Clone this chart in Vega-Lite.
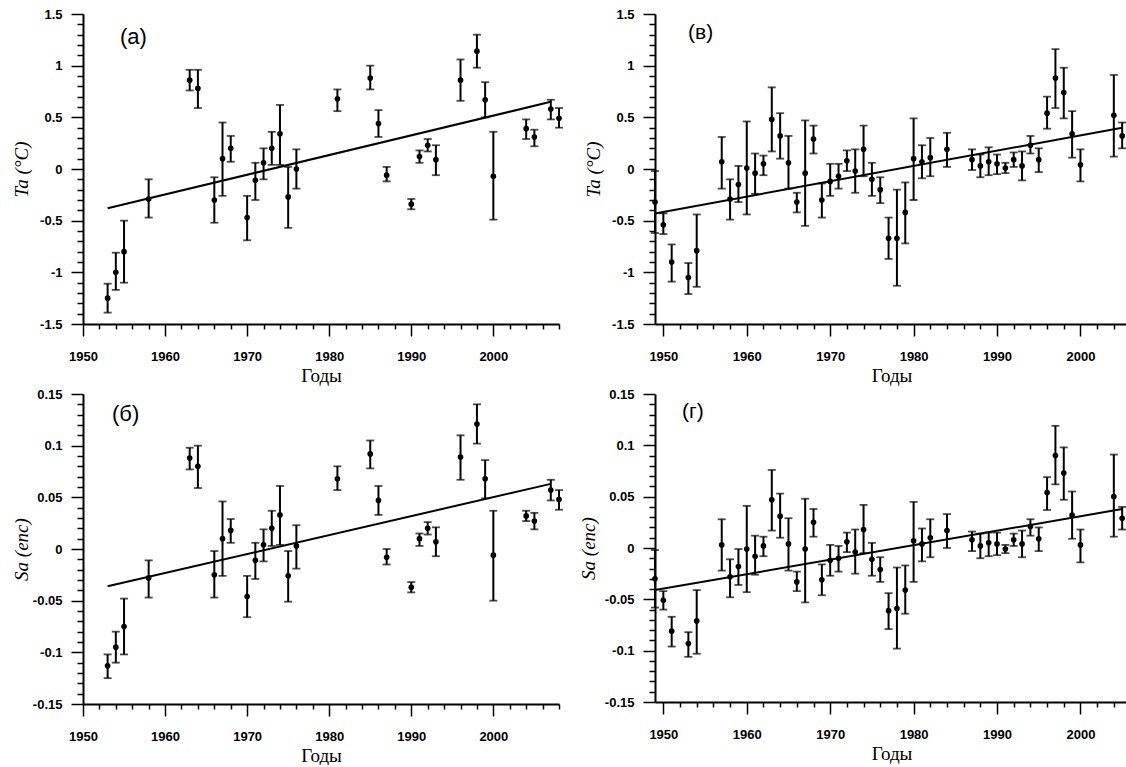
{
  "$schema": "https://vega.github.io/schema/vega-lite/v6.json",
  "background": "white",
  "padding": {"left": 12, "top": 8, "right": 0, "bottom": 0},
  "bounds": "flush",
  "columns": 2,
  "align": "all",
  "spacing": {"row": 70, "column": 96},
  "config": {
    "view": {"stroke": null},
    "axis": {
      "grid": false,
      "domainColor": "black",
      "domainWidth": 2,
      "tickColor": "black",
      "tickWidth": 1.5,
      "labelFont": "Liberation Sans",
      "labelFontWeight": "bold",
      "labelFontSize": 13,
      "labelColor": "black",
      "labelOverlap": false,
      "labelFlush": false,
      "labelBound": false,
      "titleColor": "black",
      "titleFontWeight": "normal"
    },
    "title": {"font": "Liberation Sans", "fontWeight": "normal", "color": "black", "fontSize": 22, "anchor": "start", "frame": "group"}
  },
  "datasets": {
    "a": [
      {"year": 1953, "v": -1.25, "lo": -1.39, "hi": -1.11},
      {"year": 1954, "v": -1.0, "lo": -1.17, "hi": -0.81},
      {"year": 1955, "v": -0.8, "lo": -1.1, "hi": -0.5},
      {"year": 1958, "v": -0.29, "lo": -0.47, "hi": -0.1},
      {"year": 1963, "v": 0.86, "lo": 0.76, "hi": 0.96},
      {"year": 1964, "v": 0.78, "lo": 0.59, "hi": 0.96},
      {"year": 1966, "v": -0.3, "lo": -0.52, "hi": -0.08},
      {"year": 1967, "v": 0.1, "lo": -0.26, "hi": 0.45},
      {"year": 1968, "v": 0.2, "lo": 0.07, "hi": 0.32},
      {"year": 1970, "v": -0.47, "lo": -0.69, "hi": -0.26},
      {"year": 1971, "v": -0.11, "lo": -0.3, "hi": 0.06},
      {"year": 1972, "v": 0.06, "lo": -0.1, "hi": 0.2},
      {"year": 1973, "v": 0.2, "lo": 0.04, "hi": 0.36},
      {"year": 1974, "v": 0.34, "lo": 0.04, "hi": 0.62},
      {"year": 1975, "v": -0.27, "lo": -0.57, "hi": 0.02},
      {"year": 1976, "v": 0.0, "lo": -0.19, "hi": 0.19},
      {"year": 1981, "v": 0.68, "lo": 0.56, "hi": 0.77},
      {"year": 1985, "v": 0.88, "lo": 0.77, "hi": 1.0},
      {"year": 1986, "v": 0.44, "lo": 0.31, "hi": 0.57},
      {"year": 1987, "v": -0.06, "lo": -0.12, "hi": 0.02},
      {"year": 1990, "v": -0.34, "lo": -0.39, "hi": -0.29},
      {"year": 1991, "v": 0.12, "lo": 0.06, "hi": 0.18},
      {"year": 1992, "v": 0.23, "lo": 0.17, "hi": 0.29},
      {"year": 1993, "v": 0.09, "lo": -0.06, "hi": 0.23},
      {"year": 1996, "v": 0.86, "lo": 0.66, "hi": 1.06},
      {"year": 1998, "v": 1.14, "lo": 0.98, "hi": 1.3},
      {"year": 1999, "v": 0.67, "lo": 0.5, "hi": 0.84},
      {"year": 2000, "v": -0.07, "lo": -0.49, "hi": 0.36},
      {"year": 2004, "v": 0.39, "lo": 0.29, "hi": 0.48},
      {"year": 2005, "v": 0.31, "lo": 0.22, "hi": 0.38},
      {"year": 2007, "v": 0.58, "lo": 0.48, "hi": 0.67},
      {"year": 2008, "v": 0.49, "lo": 0.4, "hi": 0.59}
    ],
    "b": [
      {"year": 1953, "v": -0.113, "lo": -0.125, "hi": -0.102},
      {"year": 1954, "v": -0.095, "lo": -0.11, "hi": -0.08},
      {"year": 1955, "v": -0.075, "lo": -0.102, "hi": -0.048},
      {"year": 1958, "v": -0.028, "lo": -0.047, "hi": -0.011},
      {"year": 1963, "v": 0.088, "lo": 0.077, "hi": 0.098},
      {"year": 1964, "v": 0.08, "lo": 0.059, "hi": 0.1},
      {"year": 1966, "v": -0.025, "lo": -0.047, "hi": -0.002},
      {"year": 1967, "v": 0.01, "lo": -0.026, "hi": 0.046},
      {"year": 1968, "v": 0.018, "lo": 0.006, "hi": 0.029},
      {"year": 1970, "v": -0.046, "lo": -0.066, "hi": -0.026},
      {"year": 1971, "v": -0.011, "lo": -0.029, "hi": 0.006},
      {"year": 1972, "v": 0.004, "lo": -0.012, "hi": 0.019},
      {"year": 1973, "v": 0.02, "lo": 0.003, "hi": 0.037},
      {"year": 1974, "v": 0.033, "lo": 0.004, "hi": 0.061},
      {"year": 1975, "v": -0.026, "lo": -0.051, "hi": -0.002},
      {"year": 1976, "v": 0.003, "lo": -0.019, "hi": 0.023},
      {"year": 1981, "v": 0.068, "lo": 0.057, "hi": 0.08},
      {"year": 1985, "v": 0.092, "lo": 0.078, "hi": 0.105},
      {"year": 1986, "v": 0.047, "lo": 0.033, "hi": 0.061},
      {"year": 1987, "v": -0.008, "lo": -0.015, "hi": 0.0},
      {"year": 1990, "v": -0.037, "lo": -0.042, "hi": -0.032},
      {"year": 1991, "v": 0.01, "lo": 0.003, "hi": 0.015},
      {"year": 1992, "v": 0.02, "lo": 0.014, "hi": 0.026},
      {"year": 1993, "v": 0.007, "lo": -0.007, "hi": 0.021},
      {"year": 1996, "v": 0.089, "lo": 0.067, "hi": 0.11},
      {"year": 1998, "v": 0.121, "lo": 0.102, "hi": 0.14},
      {"year": 1999, "v": 0.068, "lo": 0.049, "hi": 0.086},
      {"year": 2000, "v": -0.006, "lo": -0.05, "hi": 0.037},
      {"year": 2004, "v": 0.032, "lo": 0.027, "hi": 0.037},
      {"year": 2005, "v": 0.027, "lo": 0.019, "hi": 0.035},
      {"year": 2007, "v": 0.057, "lo": 0.047, "hi": 0.067},
      {"year": 2008, "v": 0.048, "lo": 0.038, "hi": 0.057}
    ],
    "c": [
      {"year": 1949, "v": -0.32, "lo": -0.62, "hi": -0.02},
      {"year": 1950, "v": -0.54, "lo": -0.63, "hi": -0.43},
      {"year": 1951, "v": -0.9, "lo": -1.09, "hi": -0.73},
      {"year": 1953, "v": -1.05, "lo": -1.21, "hi": -0.91},
      {"year": 1954, "v": -0.79, "lo": -1.14, "hi": -0.44},
      {"year": 1957, "v": 0.07, "lo": -0.19, "hi": 0.31},
      {"year": 1958, "v": -0.29, "lo": -0.49, "hi": -0.1},
      {"year": 1959, "v": -0.15, "lo": -0.32, "hi": 0.03},
      {"year": 1960, "v": 0.01, "lo": -0.44, "hi": 0.46},
      {"year": 1961, "v": -0.04, "lo": -0.24, "hi": 0.15},
      {"year": 1962, "v": 0.05, "lo": -0.06, "hi": 0.13},
      {"year": 1963, "v": 0.48, "lo": 0.17, "hi": 0.79},
      {"year": 1964, "v": 0.32, "lo": 0.1, "hi": 0.54},
      {"year": 1965, "v": 0.06, "lo": -0.19, "hi": 0.32},
      {"year": 1966, "v": -0.32, "lo": -0.42, "hi": -0.23},
      {"year": 1967, "v": -0.04, "lo": -0.55, "hi": 0.47},
      {"year": 1968, "v": 0.29, "lo": 0.15, "hi": 0.42},
      {"year": 1969, "v": -0.3, "lo": -0.47, "hi": -0.14},
      {"year": 1970, "v": -0.12, "lo": -0.26, "hi": 0.05},
      {"year": 1971, "v": -0.07, "lo": -0.19, "hi": 0.05},
      {"year": 1972, "v": 0.08, "lo": -0.02, "hi": 0.18},
      {"year": 1973, "v": -0.02, "lo": -0.23, "hi": 0.19},
      {"year": 1974, "v": 0.19, "lo": -0.07, "hi": 0.42},
      {"year": 1975, "v": -0.1, "lo": -0.26, "hi": 0.06},
      {"year": 1976, "v": -0.2, "lo": -0.33, "hi": -0.08},
      {"year": 1977, "v": -0.67, "lo": -0.87, "hi": -0.47},
      {"year": 1978, "v": -0.67, "lo": -1.13, "hi": -0.2},
      {"year": 1979, "v": -0.42, "lo": -0.72, "hi": -0.13},
      {"year": 1980, "v": 0.1, "lo": -0.3, "hi": 0.49},
      {"year": 1981, "v": 0.07, "lo": -0.09, "hi": 0.23},
      {"year": 1982, "v": 0.11, "lo": -0.07, "hi": 0.3},
      {"year": 1984, "v": 0.19, "lo": 0.02, "hi": 0.35},
      {"year": 1987, "v": 0.09, "lo": -0.01, "hi": 0.19},
      {"year": 1988, "v": 0.03, "lo": -0.08, "hi": 0.14},
      {"year": 1989, "v": 0.07, "lo": -0.06, "hi": 0.21},
      {"year": 1990, "v": 0.05, "lo": -0.05, "hi": 0.14},
      {"year": 1991, "v": 0.01, "lo": -0.04, "hi": 0.06},
      {"year": 1992, "v": 0.09, "lo": 0.02, "hi": 0.16},
      {"year": 1993, "v": 0.03, "lo": -0.11, "hi": 0.17},
      {"year": 1994, "v": 0.23, "lo": 0.15, "hi": 0.32},
      {"year": 1995, "v": 0.09, "lo": -0.03, "hi": 0.2},
      {"year": 1996, "v": 0.54, "lo": 0.39, "hi": 0.7},
      {"year": 1997, "v": 0.88, "lo": 0.59, "hi": 1.16},
      {"year": 1998, "v": 0.74, "lo": 0.49, "hi": 0.98},
      {"year": 1999, "v": 0.34, "lo": 0.11, "hi": 0.56},
      {"year": 2000, "v": 0.04, "lo": -0.12, "hi": 0.19},
      {"year": 2004, "v": 0.52, "lo": 0.12, "hi": 0.91},
      {"year": 2005, "v": 0.32, "lo": 0.2, "hi": 0.45}
    ],
    "d": [
      {"year": 1949, "v": -0.03, "lo": -0.058, "hi": -0.002},
      {"year": 1950, "v": -0.051, "lo": -0.06, "hi": -0.042},
      {"year": 1951, "v": -0.081, "lo": -0.096, "hi": -0.067},
      {"year": 1953, "v": -0.093, "lo": -0.106, "hi": -0.082},
      {"year": 1954, "v": -0.071, "lo": -0.103, "hi": -0.041},
      {"year": 1957, "v": 0.003, "lo": -0.022, "hi": 0.028},
      {"year": 1958, "v": -0.028, "lo": -0.048, "hi": -0.011},
      {"year": 1959, "v": -0.018, "lo": -0.036, "hi": -0.001},
      {"year": 1960, "v": -0.001, "lo": -0.043, "hi": 0.041},
      {"year": 1961, "v": -0.008, "lo": -0.026, "hi": 0.012},
      {"year": 1962, "v": 0.002, "lo": -0.008, "hi": 0.011},
      {"year": 1963, "v": 0.047, "lo": 0.017, "hi": 0.076},
      {"year": 1964, "v": 0.031, "lo": 0.01, "hi": 0.053},
      {"year": 1965, "v": 0.004, "lo": -0.022, "hi": 0.029},
      {"year": 1966, "v": -0.033, "lo": -0.042, "hi": -0.023},
      {"year": 1967, "v": -0.001, "lo": -0.053, "hi": 0.048},
      {"year": 1968, "v": 0.025, "lo": 0.011, "hi": 0.038},
      {"year": 1969, "v": -0.031, "lo": -0.046, "hi": -0.016},
      {"year": 1970, "v": -0.012, "lo": -0.027, "hi": 0.003},
      {"year": 1971, "v": -0.01, "lo": -0.023, "hi": 0.002},
      {"year": 1972, "v": 0.006, "lo": -0.004, "hi": 0.015},
      {"year": 1973, "v": -0.004, "lo": -0.025, "hi": 0.018},
      {"year": 1974, "v": 0.018, "lo": -0.005, "hi": 0.042},
      {"year": 1975, "v": -0.011, "lo": -0.027, "hi": 0.005},
      {"year": 1976, "v": -0.021, "lo": -0.033, "hi": -0.009},
      {"year": 1977, "v": -0.061, "lo": -0.079, "hi": -0.044},
      {"year": 1978, "v": -0.059, "lo": -0.098, "hi": -0.019},
      {"year": 1979, "v": -0.041, "lo": -0.064, "hi": -0.017},
      {"year": 1980, "v": 0.007, "lo": -0.033, "hi": 0.045},
      {"year": 1981, "v": 0.004, "lo": -0.013, "hi": 0.019},
      {"year": 1982, "v": 0.01, "lo": -0.009, "hi": 0.028},
      {"year": 1984, "v": 0.017, "lo": 0.0, "hi": 0.033},
      {"year": 1987, "v": 0.008, "lo": -0.003, "hi": 0.016},
      {"year": 1988, "v": 0.002, "lo": -0.01, "hi": 0.014},
      {"year": 1989, "v": 0.005, "lo": -0.008, "hi": 0.015},
      {"year": 1990, "v": 0.004, "lo": -0.007, "hi": 0.015},
      {"year": 1991, "v": -0.001, "lo": -0.005, "hi": 0.003},
      {"year": 1992, "v": 0.008, "lo": 0.002, "hi": 0.014},
      {"year": 1993, "v": 0.004, "lo": -0.009, "hi": 0.017},
      {"year": 1994, "v": 0.021, "lo": 0.012, "hi": 0.028},
      {"year": 1995, "v": 0.009, "lo": -0.003, "hi": 0.02},
      {"year": 1996, "v": 0.054, "lo": 0.037, "hi": 0.069},
      {"year": 1997, "v": 0.09, "lo": 0.062, "hi": 0.119},
      {"year": 1998, "v": 0.073, "lo": 0.047, "hi": 0.098},
      {"year": 1999, "v": 0.032, "lo": 0.009, "hi": 0.055},
      {"year": 2000, "v": 0.003, "lo": -0.014, "hi": 0.018},
      {"year": 2004, "v": 0.05, "lo": 0.011, "hi": 0.091},
      {"year": 2005, "v": 0.029, "lo": 0.018, "hi": 0.04}
    ],
    "trend": [
      {"panel": "a", "year": 1953, "v": -0.38},
      {"panel": "a", "year": 2007, "v": 0.65},
      {"panel": "b", "year": 1953, "v": -0.036},
      {"panel": "b", "year": 2007, "v": 0.063},
      {"panel": "c", "year": 1949, "v": -0.43},
      {"panel": "c", "year": 2005, "v": 0.4},
      {"panel": "d", "year": 1949, "v": -0.041},
      {"panel": "d", "year": 2005, "v": 0.038}
    ]
  },
  "concat": [
    {
      "width": 476, "height": 310,
      "title": {"text": "(а)", "dx": 37, "offset": -41},
      "data": {"name": "a"},
      "resolve": {"axis": {"y": "independent"}},
      "encoding": {
        "x": {"field": "year", "type": "quantitative",
          "scale": {"domain": [1950, 2008], "nice": false, "zero": false},
          "axis": {"values": [1950,1952,1954,1956,1958,1960,1962,1964,1966,1968,1970,1972,1974,1976,1978,1980,1982,1984,1986,1988,1990,1992,1994,1996,1998,2000,2002,2004,2006,2008],
            "labelExpr": "datum.value % 10 == 0 ? toString(datum.value) : ''",
            "labelOverlap": false,
            "tickSize": {"condition": {"test": "datum.value % 10 == 0", "value": 12}, "value": 5},
            "labelPadding": 14,
            "title": "Годы", "titleFont": "Liberation Serif", "titleFontSize": 19, "titlePadding": 3}}
      },
      "layer": [
        {"layer": [
          {"mark": {"type": "rule", "color": "black", "strokeWidth": 2},
           "encoding": {
             "y": {"field": "lo", "type": "quantitative",
               "scale": {"domain": [-1.5, 1.5], "nice": false, "zero": false},
               "axis": {"orient": "left", "values": [-1.5, -1, -0.5, 0, 0.5, 1, 1.5],
                 "labelExpr": "toString(datum.value)",
                 "tickSize": 12, "labelPadding": 9,
                 "title": "Ta (°C)", "titleFont": "Liberation Serif", "titleFontStyle": "italic", "titleFontSize": 19, "titlePadding": 8}},
             "y2": {"field": "hi"}}},
          {"mark": {"type": "tick", "orient": "horizontal", "color": "black", "size": 8, "thickness": 1.8}, "encoding": {"y": {"field": "lo", "type": "quantitative"}}},
          {"mark": {"type": "tick", "orient": "horizontal", "color": "black", "size": 8, "thickness": 1.8}, "encoding": {"y": {"field": "hi", "type": "quantitative"}}},
          {"mark": {"type": "point", "filled": true, "color": "black", "size": 32, "opacity": 1}, "encoding": {"y": {"field": "v", "type": "quantitative"}}},
          {"data": {"name": "trend"}, "transform": [{"filter": "datum.panel == 'a'"}],
           "mark": {"type": "line", "color": "black", "strokeWidth": 2}, "encoding": {"y": {"field": "v", "type": "quantitative"}}}
        ]},
        {"mark": {"type": "point", "opacity": 0},
         "encoding": {"y": {"field": "v", "type": "quantitative",
           "scale": {"domain": [-1.5, 1.5], "nice": false, "zero": false},
           "axis": {"orient": "left", "values": [-1.4,-1.3,-1.2,-1.1,-0.9,-0.8,-0.7,-0.6,-0.4,-0.3,-0.2,-0.1,0.1,0.2,0.3,0.4,0.6,0.7,0.8,0.9,1.1,1.2,1.3,1.4],
             "labels": false, "domain": false, "tickSize": 6, "title": null}}}}
      ]
    },
    {
      "width": 473, "height": 310,
      "title": {"text": "(в)", "dx": 33, "offset": -35, "fontSize": 21},
      "data": {"name": "c"},
      "resolve": {"axis": {"y": "independent"}},
      "encoding": {
        "x": {"field": "year", "type": "quantitative",
          "scale": {"domain": [1949, 2005.7], "nice": false, "zero": false},
          "axis": {"values": [1950,1952,1954,1956,1958,1960,1962,1964,1966,1968,1970,1972,1974,1976,1978,1980,1982,1984,1986,1988,1990,1992,1994,1996,1998,2000,2002,2004],
            "labelExpr": "datum.value % 10 == 0 ? toString(datum.value) : ''",
            "labelOverlap": false,
            "tickSize": {"condition": {"test": "datum.value % 10 == 0", "value": 12}, "value": 5},
            "labelPadding": 14,
            "title": "Годы", "titleFont": "Liberation Serif", "titleFontSize": 19, "titlePadding": 3}}
      },
      "layer": [
        {"layer": [
          {"mark": {"type": "rule", "color": "black", "strokeWidth": 2},
           "encoding": {
             "y": {"field": "lo", "type": "quantitative",
               "scale": {"domain": [-1.5, 1.5], "nice": false, "zero": false},
               "axis": {"orient": "left", "values": [-1.5, -1, -0.5, 0, 0.5, 1, 1.5],
                 "labelExpr": "toString(datum.value)",
                 "tickSize": 12, "labelPadding": 9,
                 "title": "Ta (°C)", "titleFont": "Liberation Serif", "titleFontStyle": "italic", "titleFontSize": 19, "titlePadding": 8}},
             "y2": {"field": "hi"}}},
          {"mark": {"type": "tick", "orient": "horizontal", "color": "black", "size": 8, "thickness": 1.8}, "encoding": {"y": {"field": "lo", "type": "quantitative"}}},
          {"mark": {"type": "tick", "orient": "horizontal", "color": "black", "size": 8, "thickness": 1.8}, "encoding": {"y": {"field": "hi", "type": "quantitative"}}},
          {"mark": {"type": "point", "filled": true, "color": "black", "size": 32, "opacity": 1}, "encoding": {"y": {"field": "v", "type": "quantitative"}}},
          {"data": {"name": "trend"}, "transform": [{"filter": "datum.panel == 'c'"}],
           "mark": {"type": "line", "color": "black", "strokeWidth": 2}, "encoding": {"y": {"field": "v", "type": "quantitative"}}}
        ]},
        {"mark": {"type": "point", "opacity": 0},
         "encoding": {"y": {"field": "v", "type": "quantitative",
           "scale": {"domain": [-1.5, 1.5], "nice": false, "zero": false},
           "axis": {"orient": "left", "values": [-1.4,-1.3,-1.2,-1.1,-0.9,-0.8,-0.7,-0.6,-0.4,-0.3,-0.2,-0.1,0.1,0.2,0.3,0.4,0.6,0.7,0.8,0.9,1.1,1.2,1.3,1.4],
             "labels": false, "domain": false, "tickSize": 6, "title": null}}}}
      ]
    },
    {
      "width": 476, "height": 310,
      "title": {"text": "(б)", "dx": 29, "offset": -38},
      "data": {"name": "b"},
      "resolve": {"axis": {"y": "independent"}},
      "encoding": {
        "x": {"field": "year", "type": "quantitative",
          "scale": {"domain": [1950, 2008], "nice": false, "zero": false},
          "axis": {"values": [1950,1952,1954,1956,1958,1960,1962,1964,1966,1968,1970,1972,1974,1976,1978,1980,1982,1984,1986,1988,1990,1992,1994,1996,1998,2000,2002,2004,2006,2008],
            "labelExpr": "datum.value % 10 == 0 ? toString(datum.value) : ''",
            "labelOverlap": false,
            "tickSize": {"condition": {"test": "datum.value % 10 == 0", "value": 12}, "value": 5},
            "labelPadding": 14,
            "title": "Годы", "titleFont": "Liberation Serif", "titleFontSize": 19, "titlePadding": 3}}
      },
      "layer": [
        {"layer": [
          {"mark": {"type": "rule", "color": "black", "strokeWidth": 2},
           "encoding": {
             "y": {"field": "lo", "type": "quantitative",
               "scale": {"domain": [-0.15, 0.15], "nice": false, "zero": false},
               "axis": {"orient": "left", "values": [-0.15, -0.1, -0.05, 0, 0.05, 0.1, 0.15],
                 "labelExpr": "toString(datum.value)",
                 "tickSize": 12, "labelPadding": 9,
                 "title": "Sa (епс)", "titleFont": "Liberation Serif", "titleFontStyle": "italic", "titleFontSize": 19, "titlePadding": 1}},
             "y2": {"field": "hi"}}},
          {"mark": {"type": "tick", "orient": "horizontal", "color": "black", "size": 8, "thickness": 1.8}, "encoding": {"y": {"field": "lo", "type": "quantitative"}}},
          {"mark": {"type": "tick", "orient": "horizontal", "color": "black", "size": 8, "thickness": 1.8}, "encoding": {"y": {"field": "hi", "type": "quantitative"}}},
          {"mark": {"type": "point", "filled": true, "color": "black", "size": 32, "opacity": 1}, "encoding": {"y": {"field": "v", "type": "quantitative"}}},
          {"data": {"name": "trend"}, "transform": [{"filter": "datum.panel == 'b'"}],
           "mark": {"type": "line", "color": "black", "strokeWidth": 2}, "encoding": {"y": {"field": "v", "type": "quantitative"}}}
        ]},
        {"mark": {"type": "point", "opacity": 0},
         "encoding": {"y": {"field": "v", "type": "quantitative",
           "scale": {"domain": [-0.15, 0.15], "nice": false, "zero": false},
           "axis": {"orient": "left", "values": [-0.14,-0.13,-0.12,-0.11,-0.09,-0.08,-0.07,-0.06,-0.04,-0.03,-0.02,-0.01,0.01,0.02,0.03,0.04,0.06,0.07,0.08,0.09,0.11,0.12,0.13,0.14],
             "labels": false, "domain": false, "tickSize": 6, "title": null}}}}
      ]
    },
    {
      "width": 473, "height": 308,
      "title": {"text": "(г)", "dx": 27, "offset": -34, "fontSize": 21},
      "data": {"name": "d"},
      "resolve": {"axis": {"y": "independent"}},
      "encoding": {
        "x": {"field": "year", "type": "quantitative",
          "scale": {"domain": [1949, 2005.7], "nice": false, "zero": false},
          "axis": {"values": [1950,1952,1954,1956,1958,1960,1962,1964,1966,1968,1970,1972,1974,1976,1978,1980,1982,1984,1986,1988,1990,1992,1994,1996,1998,2000,2002,2004],
            "labelExpr": "datum.value % 10 == 0 ? toString(datum.value) : ''",
            "labelOverlap": false,
            "tickSize": {"condition": {"test": "datum.value % 10 == 0", "value": 12}, "value": 5},
            "labelPadding": 14,
            "title": "Годы", "titleFont": "Liberation Serif", "titleFontSize": 19, "titlePadding": 3}}
      },
      "layer": [
        {"layer": [
          {"mark": {"type": "rule", "color": "black", "strokeWidth": 2},
           "encoding": {
             "y": {"field": "lo", "type": "quantitative",
               "scale": {"domain": [-0.15, 0.15], "nice": false, "zero": false},
               "axis": {"orient": "left", "values": [-0.15, -0.1, -0.05, 0, 0.05, 0.1, 0.15],
                 "labelExpr": "toString(datum.value)",
                 "tickSize": 12, "labelPadding": 9,
                 "title": "Sa (епс)", "titleFont": "Liberation Serif", "titleFontStyle": "italic", "titleFontSize": 19, "titlePadding": 6}},
             "y2": {"field": "hi"}}},
          {"mark": {"type": "tick", "orient": "horizontal", "color": "black", "size": 8, "thickness": 1.8}, "encoding": {"y": {"field": "lo", "type": "quantitative"}}},
          {"mark": {"type": "tick", "orient": "horizontal", "color": "black", "size": 8, "thickness": 1.8}, "encoding": {"y": {"field": "hi", "type": "quantitative"}}},
          {"mark": {"type": "point", "filled": true, "color": "black", "size": 32, "opacity": 1}, "encoding": {"y": {"field": "v", "type": "quantitative"}}},
          {"data": {"name": "trend"}, "transform": [{"filter": "datum.panel == 'd'"}],
           "mark": {"type": "line", "color": "black", "strokeWidth": 2}, "encoding": {"y": {"field": "v", "type": "quantitative"}}}
        ]},
        {"mark": {"type": "point", "opacity": 0},
         "encoding": {"y": {"field": "v", "type": "quantitative",
           "scale": {"domain": [-0.15, 0.15], "nice": false, "zero": false},
           "axis": {"orient": "left", "values": [-0.14,-0.13,-0.12,-0.11,-0.09,-0.08,-0.07,-0.06,-0.04,-0.03,-0.02,-0.01,0.01,0.02,0.03,0.04,0.06,0.07,0.08,0.09,0.11,0.12,0.13,0.14],
             "labels": false, "domain": false, "tickSize": 6, "title": null}}}}
      ]
    }
  ]
}
